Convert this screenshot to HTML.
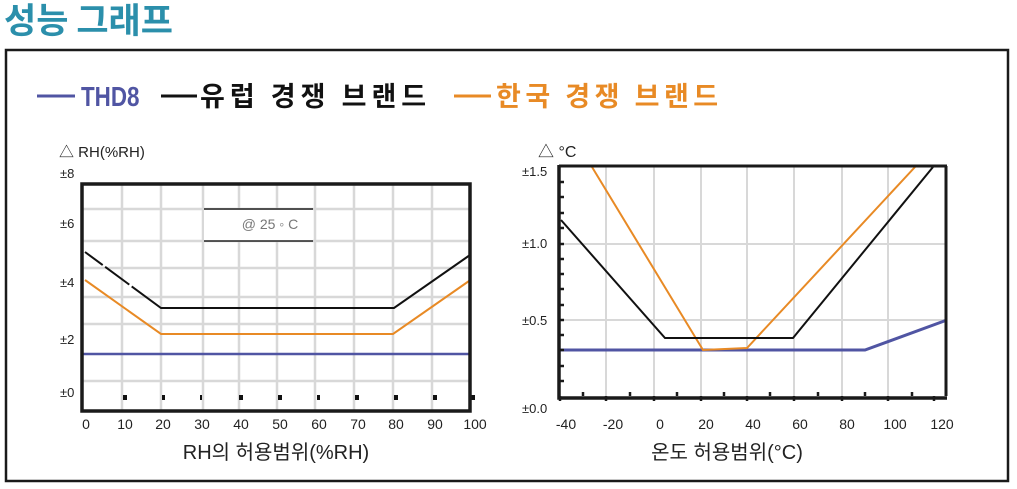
<!DOCTYPE html>
<html><head><meta charset="utf-8"><style>
body{margin:0;background:#fff;}
svg{display:block;font-family:"Liberation Sans","Noto Sans CJK KR",sans-serif;}
</style></head><body>
<svg width="1017" height="489" viewBox="0 0 1017 489">
<text x="4" y="33" font-size="35" font-weight="bold" fill="#2b8fab" font-family="'Noto Sans CJK KR',sans-serif">성능 그래프</text>
<rect x="6" y="50" width="1002" height="431" fill="none" stroke="#1a1a1a" stroke-width="2.5"/>
<!-- legend -->
<line x1="37" y1="96" x2="75" y2="96" stroke="#5055a3" stroke-width="3"/>
<text x="81" y="106" font-size="28" font-weight="bold" fill="#5055a3" transform="translate(81 0) scale(0.8 1) translate(-81 0)">THD8</text>
<line x1="161" y1="96" x2="197" y2="96" stroke="#111" stroke-width="3"/>
<text x="200" y="106" font-size="27" font-weight="bold" fill="#111" font-family="'Noto Sans CJK KR',sans-serif" letter-spacing="5">유럽 경쟁 브랜드</text>
<line x1="454" y1="96" x2="491" y2="96" stroke="#e88a25" stroke-width="3"/>
<text x="496" y="106" font-size="27" font-weight="bold" fill="#e88a25" font-family="'Noto Sans CJK KR',sans-serif" letter-spacing="4.5">한국 경쟁 브랜드</text>

<!-- LEFT CHART -->
<text x="59" y="157" font-size="15" fill="#222">△ RH(%RH)</text>
<g stroke="#d8d8d8" stroke-width="2.5">
<line x1="122" y1="184" x2="122" y2="411"/><line x1="161" y1="184" x2="161" y2="411"/>
<line x1="203" y1="184" x2="203" y2="411"/><line x1="239" y1="184" x2="239" y2="411"/>
<line x1="277" y1="184" x2="277" y2="411"/><line x1="315" y1="184" x2="315" y2="411"/>
<line x1="354" y1="184" x2="354" y2="411"/><line x1="393" y1="184" x2="393" y2="411"/>
<line x1="432" y1="184" x2="432" y2="411"/>
<line x1="82" y1="209" x2="470" y2="209"/><line x1="82" y1="241" x2="470" y2="241"/>
<line x1="82" y1="268" x2="470" y2="268"/><line x1="82" y1="297" x2="470" y2="297"/>
<line x1="82" y1="324" x2="470" y2="324"/><line x1="82" y1="381" x2="470" y2="381"/>
</g>
<rect x="204" y="210" width="109" height="31" fill="#fff"/>
<line x1="204" y1="209" x2="313" y2="209" stroke="#222" stroke-width="1.5"/>
<line x1="204" y1="241" x2="313" y2="241" stroke="#222" stroke-width="1.5"/>
<text x="270" y="229" font-size="14" fill="#777" text-anchor="middle">@ 25 ◦ C</text>
<line x1="82" y1="354" x2="470" y2="354" stroke="#5055a3" stroke-width="2.5"/>
<polyline points="85,280 161,334 393,334 469,281" fill="none" stroke="#e88a25" stroke-width="2"/>
<polyline points="85,252 161,308 394,308 470,255" fill="none" stroke="#111" stroke-width="2" stroke-dasharray="22,3,30,3,400,3,30,3,60"/>
<g fill="#111">
<rect x="123" y="395" width="4" height="5"/><rect x="162" y="395" width="3" height="5"/><rect x="200" y="395" width="2" height="5"/>
<rect x="239" y="395" width="4" height="5"/><rect x="278" y="395" width="4" height="5"/><rect x="317" y="395" width="3" height="5"/>
<rect x="355" y="395" width="4" height="5"/><rect x="394" y="395" width="4" height="5"/><rect x="433" y="395" width="4" height="5"/>
<rect x="471" y="395" width="4" height="5"/>
</g>
<rect x="82" y="184" width="388" height="227" fill="none" stroke="#1a1a1a" stroke-width="3.5"/>
<g font-size="13" fill="#222">
<text x="60" y="178">±8</text><text x="60" y="228">±6</text><text x="60" y="287">±4</text><text x="60" y="344">±2</text><text x="60" y="397">±0</text>
</g>
<g font-size="14" fill="#222" text-anchor="middle">
<text x="86" y="429">0</text><text x="125" y="429">10</text><text x="163" y="429">20</text><text x="202" y="429">30</text><text x="241" y="429">40</text><text x="280" y="429">50</text><text x="319" y="429">60</text><text x="358" y="429">70</text><text x="396" y="429">80</text><text x="435" y="429">90</text><text x="475" y="429">100</text>
</g>
<text x="276" y="459" font-size="20" fill="#222" text-anchor="middle">RH의 허용범위(%RH)</text>

<!-- RIGHT CHART -->
<text x="538" y="157" font-size="16" fill="#222">△ °C</text>
<g stroke="#d8d8d8" stroke-width="2">
<line x1="606" y1="167" x2="606" y2="396"/><line x1="654" y1="167" x2="654" y2="396"/>
<line x1="701" y1="167" x2="701" y2="396"/><line x1="747" y1="167" x2="747" y2="396"/>
<line x1="794" y1="167" x2="794" y2="396"/><line x1="842" y1="167" x2="842" y2="396"/>
<line x1="888" y1="167" x2="888" y2="396"/>
<line x1="559" y1="244" x2="947" y2="244"/><line x1="559" y1="320" x2="947" y2="320"/>
</g>
<polyline points="560,350 865,350 947,320" fill="none" stroke="#5055a3" stroke-width="3"/>
<polyline points="592,167 703,350 747,348 915,167" fill="none" stroke="#e88a25" stroke-width="2"/>
<polyline points="561,220 665,338 793,338 933,167" fill="none" stroke="#111" stroke-width="2"/>
<path d="M946,166 V396 M559,166 H947" stroke="#1a1a1a" stroke-width="3" fill="none"/>
<path d="M559,165 V398 H947" stroke="#1a1a1a" stroke-width="3.5" fill="none"/>
<g stroke="#1a1a1a" stroke-width="2.5">
<path d="M559,182h5M559,197h5M559,213h5M559,228h5M559,244h5M559,259h5M559,274h5M559,289h5M559,305h5M559,320h5M559,335h5M559,350h5M559,366h5M559,381h5"/>
<path d="M560,396v5M583,396v-4M606,396v5M630,396v-4M654,396v5M677,396v-4M701,396v5M724,396v-4M747,396v5M770,396v-4M794,396v5M818,396v-4M842,396v5M865,396v-4M888,396v5M912,396v-4M934,396v5"/>
</g>
<g font-size="13" fill="#222">
<text x="522" y="176">±1.5</text><text x="522" y="248">±1.0</text><text x="522" y="325">±0.5</text><text x="522" y="413">±0.0</text>
</g>
<g font-size="14" fill="#222" text-anchor="middle">
<text x="566" y="429">-40</text><text x="613" y="429">-20</text><text x="660" y="429">0</text><text x="706" y="429">20</text><text x="753" y="429">40</text><text x="800" y="429">60</text><text x="847" y="429">80</text><text x="895" y="429">100</text><text x="942" y="429">120</text>
</g>
<text x="727" y="459" font-size="20" fill="#222" text-anchor="middle">온도 허용범위(°C)</text>
</svg>
</body></html>
